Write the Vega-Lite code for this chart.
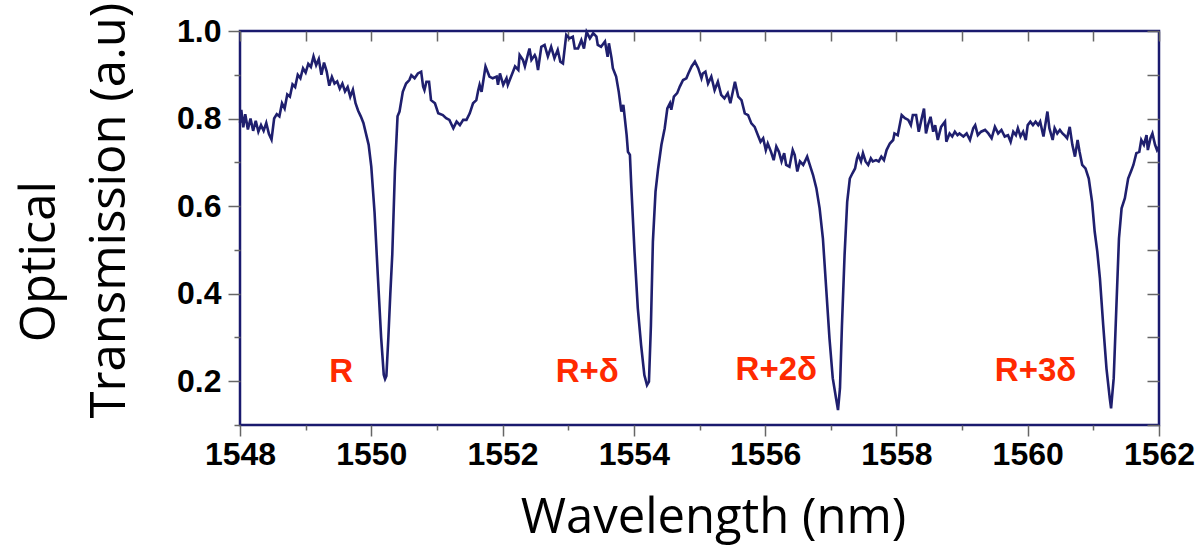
{
  "$schema": "https://vega.github.io/schema/vega-lite/v6.json",
  "width": 919,
  "height": 394,
  "autosize": {"type": "none"},
  "padding": {"left": 240, "top": 31, "right": 42, "bottom": 120},
  "background": "white",
  "config": {
    "view": {"stroke": "#1a1a6e", "strokeWidth": 2.5},
    "axis": {"grid": false, "domain": false, "tickColor": "#666666", "tickWidth": 1.5}
  },
  "datasets": {
    "spectrum": [
      {"w":1548.00,"t":0.79},{"w":1548.02,"t":0.82},{"w":1548.05,"t":0.78},{"w":1548.08,"t":0.81},{"w":1548.12,"t":0.775},
      {"w":1548.16,"t":0.80},{"w":1548.20,"t":0.772},{"w":1548.24,"t":0.795},{"w":1548.28,"t":0.770},{"w":1548.32,"t":0.785},
      {"w":1548.36,"t":0.772},{"w":1548.40,"t":0.790},{"w":1548.44,"t":0.765},{"w":1548.48,"t":0.752},{"w":1548.52,"t":0.800},
      {"w":1548.56,"t":0.810},{"w":1548.60,"t":0.805},{"w":1548.64,"t":0.835},{"w":1548.68,"t":0.823},{"w":1548.72,"t":0.855},
      {"w":1548.76,"t":0.850},{"w":1548.80,"t":0.878},{"w":1548.84,"t":0.872},{"w":1548.88,"t":0.900},{"w":1548.92,"t":0.892},
      {"w":1548.96,"t":0.915},{"w":1549.00,"t":0.905},{"w":1549.04,"t":0.925},{"w":1549.08,"t":0.918},{"w":1549.12,"t":0.942},
      {"w":1549.16,"t":0.922},{"w":1549.20,"t":0.936},{"w":1549.24,"t":0.900},{"w":1549.28,"t":0.928},{"w":1549.32,"t":0.908},
      {"w":1549.36,"t":0.875},{"w":1549.40,"t":0.895},{"w":1549.44,"t":0.880},{"w":1549.48,"t":0.885},{"w":1549.52,"t":0.868},
      {"w":1549.56,"t":0.880},{"w":1549.60,"t":0.862},{"w":1549.64,"t":0.872},{"w":1549.68,"t":0.850},{"w":1549.72,"t":0.866},
      {"w":1549.76,"t":0.835},{"w":1549.80,"t":0.818},{"w":1549.84,"t":0.805},{"w":1549.88,"t":0.790},{"w":1549.92,"t":0.765},
      {"w":1549.96,"t":0.740},{"w":1550.00,"t":0.690},{"w":1550.05,"t":0.585},{"w":1550.10,"t":0.440},{"w":1550.15,"t":0.300},
      {"w":1550.19,"t":0.215},{"w":1550.21,"t":0.205},{"w":1550.23,"t":0.212},{"w":1550.26,"t":0.30},{"w":1550.29,"t":0.40},
      {"w":1550.32,"t":0.49},{"w":1550.36,"t":0.68},{"w":1550.40,"t":0.805},{"w":1550.43,"t":0.816},{"w":1550.48,"t":0.861},
      {"w":1550.53,"t":0.880},{"w":1550.58,"t":0.888},{"w":1550.61,"t":0.899},{"w":1550.66,"t":0.892},{"w":1550.71,"t":0.903},
      {"w":1550.76,"t":0.907},{"w":1550.79,"t":0.873},{"w":1550.81,"t":0.865},{"w":1550.84,"t":0.884},{"w":1550.88,"t":0.884},
      {"w":1550.91,"t":0.842},{"w":1550.97,"t":0.835},{"w":1551.02,"t":0.812},{"w":1551.09,"t":0.808},{"w":1551.14,"t":0.801},
      {"w":1551.19,"t":0.797},{"w":1551.25,"t":0.778},{"w":1551.30,"t":0.793},{"w":1551.35,"t":0.785},{"w":1551.40,"t":0.797},
      {"w":1551.45,"t":0.797},{"w":1551.50,"t":0.812},{"w":1551.55,"t":0.835},{"w":1551.60,"t":0.842},{"w":1551.63,"t":0.865},
      {"w":1551.65,"t":0.877},{"w":1551.68,"t":0.861},{"w":1551.70,"t":0.880},{"w":1551.74,"t":0.919},{"w":1551.80,"t":0.896},
      {"w":1551.85,"t":0.892},{"w":1551.91,"t":0.896},{"w":1551.93,"t":0.877},{"w":1551.96,"t":0.903},{"w":1552.01,"t":0.877},
      {"w":1552.06,"t":0.892},{"w":1552.08,"t":0.877},{"w":1552.13,"t":0.896},{"w":1552.19,"t":0.919},{"w":1552.24,"t":0.911},
      {"w":1552.26,"t":0.945},{"w":1552.31,"t":0.934},{"w":1552.34,"t":0.919},{"w":1552.39,"t":0.949},{"w":1552.41,"t":0.960},
      {"w":1552.44,"t":0.934},{"w":1552.49,"t":0.945},{"w":1552.51,"t":0.938},{"w":1552.54,"t":0.911},{"w":1552.59,"t":0.964},
      {"w":1552.64,"t":0.968},{"w":1552.69,"t":0.942},{"w":1552.74,"t":0.964},{"w":1552.79,"t":0.938},{"w":1552.84,"t":0.957},
      {"w":1552.88,"t":0.930},{"w":1552.92,"t":0.926},{"w":1552.97,"t":0.991},{"w":1553.02,"t":0.983},{"w":1553.07,"t":0.987},
      {"w":1553.10,"t":0.960},{"w":1553.15,"t":0.960},{"w":1553.20,"t":0.979},{"w":1553.24,"t":0.960},{"w":1553.28,"t":0.998},
      {"w":1553.33,"t":0.983},{"w":1553.38,"t":0.995},{"w":1553.43,"t":0.987},{"w":1553.45,"t":0.968},{"w":1553.50,"t":0.964},
      {"w":1553.56,"t":0.976},{"w":1553.60,"t":0.941},{"w":1553.62,"t":0.972},{"w":1553.66,"t":0.938},{"w":1553.68,"t":0.915},
      {"w":1553.73,"t":0.896},{"w":1553.77,"t":0.861},{"w":1553.81,"t":0.816},{"w":1553.84,"t":0.831},{"w":1553.86,"t":0.804},
      {"w":1553.89,"t":0.762},{"w":1553.91,"t":0.724},{"w":1553.94,"t":0.717},{"w":1553.96,"t":0.648},{"w":1554.01,"t":0.496},
      {"w":1554.06,"t":0.367},{"w":1554.11,"t":0.283},{"w":1554.16,"t":0.214},{"w":1554.20,"t":0.191},{"w":1554.23,"t":0.199},
      {"w":1554.26,"t":0.328},{"w":1554.29,"t":0.519},{"w":1554.33,"t":0.633},{"w":1554.37,"t":0.686},{"w":1554.42,"t":0.740},
      {"w":1554.47,"t":0.778},{"w":1554.51,"t":0.823},{"w":1554.55,"t":0.835},{"w":1554.57,"t":0.820},{"w":1554.61,"t":0.850},
      {"w":1554.66,"t":0.858},{"w":1554.70,"t":0.873},{"w":1554.75,"t":0.888},{"w":1554.80,"t":0.892},{"w":1554.83,"t":0.903},
      {"w":1554.88,"t":0.919},{"w":1554.93,"t":0.930},{"w":1554.98,"t":0.915},{"w":1555.03,"t":0.892},{"w":1555.05,"t":0.903},
      {"w":1555.09,"t":0.907},{"w":1555.13,"t":0.880},{"w":1555.18,"t":0.896},{"w":1555.23,"t":0.865},{"w":1555.28,"t":0.884},
      {"w":1555.33,"t":0.854},{"w":1555.38,"t":0.846},{"w":1555.43,"t":0.858},{"w":1555.47,"t":0.835},{"w":1555.54,"t":0.884},
      {"w":1555.59,"t":0.850},{"w":1555.64,"t":0.842},{"w":1555.69,"t":0.812},{"w":1555.74,"t":0.808},{"w":1555.79,"t":0.789},
      {"w":1555.84,"t":0.781},{"w":1555.89,"t":0.762},{"w":1555.93,"t":0.747},{"w":1555.97,"t":0.755},{"w":1556.01,"t":0.728},
      {"w":1556.04,"t":0.743},{"w":1556.09,"t":0.724},{"w":1556.13,"t":0.705},{"w":1556.17,"t":0.736},{"w":1556.21,"t":0.724},
      {"w":1556.25,"t":0.702},{"w":1556.29,"t":0.721},{"w":1556.32,"t":0.694},{"w":1556.37,"t":0.690},{"w":1556.42,"t":0.728},
      {"w":1556.45,"t":0.717},{"w":1556.49,"t":0.679},{"w":1556.53,"t":0.702},{"w":1556.58,"t":0.694},{"w":1556.64,"t":0.713},
      {"w":1556.68,"t":0.694},{"w":1556.73,"t":0.671},{"w":1556.78,"t":0.641},{"w":1556.83,"t":0.595},{"w":1556.88,"t":0.526},
      {"w":1556.93,"t":0.412},{"w":1556.98,"t":0.298},{"w":1557.03,"t":0.207},{"w":1557.08,"t":0.161},{"w":1557.11,"t":0.134},
      {"w":1557.14,"t":0.184},{"w":1557.17,"t":0.328},{"w":1557.21,"t":0.488},{"w":1557.25,"t":0.610},{"w":1557.29,"t":0.663},
      {"w":1557.33,"t":0.675},{"w":1557.37,"t":0.686},{"w":1557.40,"t":0.709},{"w":1557.42,"t":0.717},{"w":1557.46,"t":0.702},
      {"w":1557.49,"t":0.721},{"w":1557.53,"t":0.702},{"w":1557.57,"t":0.694},{"w":1557.61,"t":0.709},{"w":1557.64,"t":0.702},
      {"w":1557.69,"t":0.705},{"w":1557.73,"t":0.702},{"w":1557.77,"t":0.713},{"w":1557.81,"t":0.705},{"w":1557.85,"t":0.728},
      {"w":1557.90,"t":0.743},{"w":1557.95,"t":0.751},{"w":1557.97,"t":0.766},{"w":1558.02,"t":0.762},{"w":1558.08,"t":0.808},
      {"w":1558.13,"t":0.801},{"w":1558.18,"t":0.797},{"w":1558.22,"t":0.785},{"w":1558.25,"t":0.808},{"w":1558.30,"t":0.808},
      {"w":1558.34,"t":0.770},{"w":1558.38,"t":0.797},{"w":1558.42,"t":0.823},{"w":1558.45,"t":0.766},{"w":1558.48,"t":0.785},
      {"w":1558.52,"t":0.804},{"w":1558.56,"t":0.770},{"w":1558.59,"t":0.785},{"w":1558.63,"t":0.751},{"w":1558.68,"t":0.781},
      {"w":1558.74,"t":0.793},{"w":1558.76,"t":0.747},{"w":1558.81,"t":0.766},{"w":1558.85,"t":0.759},{"w":1558.89,"t":0.770},
      {"w":1558.93,"t":0.762},{"w":1558.96,"t":0.766},{"w":1559.02,"t":0.759},{"w":1559.07,"t":0.766},{"w":1559.12,"t":0.751},
      {"w":1559.17,"t":0.778},{"w":1559.20,"t":0.785},{"w":1559.24,"t":0.762},{"w":1559.29,"t":0.770},{"w":1559.35,"t":0.774},
      {"w":1559.40,"t":0.766},{"w":1559.45,"t":0.755},{"w":1559.50,"t":0.781},{"w":1559.55,"t":0.766},{"w":1559.60,"t":0.774},
      {"w":1559.65,"t":0.759},{"w":1559.70,"t":0.762},{"w":1559.74,"t":0.747},{"w":1559.78,"t":0.770},{"w":1559.82,"t":0.762},
      {"w":1559.85,"t":0.778},{"w":1559.89,"t":0.759},{"w":1559.93,"t":0.770},{"w":1559.97,"t":0.751},{"w":1560.00,"t":0.785},
      {"w":1560.04,"t":0.793},{"w":1560.08,"t":0.785},{"w":1560.12,"t":0.793},{"w":1560.16,"t":0.785},{"w":1560.19,"t":0.793},
      {"w":1560.24,"t":0.759},{"w":1560.30,"t":0.816},{"w":1560.33,"t":0.778},{"w":1560.38,"t":0.751},{"w":1560.41,"t":0.778},
      {"w":1560.45,"t":0.766},{"w":1560.49,"t":0.774},{"w":1560.53,"t":0.766},{"w":1560.56,"t":0.762},{"w":1560.60,"t":0.755},
      {"w":1560.64,"t":0.781},{"w":1560.68,"t":0.740},{"w":1560.72,"t":0.713},{"w":1560.76,"t":0.751},{"w":1560.79,"t":0.724},
      {"w":1560.83,"t":0.694},{"w":1560.88,"t":0.686},{"w":1560.93,"t":0.663},{"w":1560.98,"t":0.610},{"w":1561.02,"t":0.542},
      {"w":1561.06,"t":0.496},{"w":1561.10,"t":0.435},{"w":1561.15,"t":0.328},{"w":1561.20,"t":0.229},{"w":1561.25,"t":0.161},
      {"w":1561.27,"t":0.138},{"w":1561.31,"t":0.207},{"w":1561.35,"t":0.367},{"w":1561.39,"t":0.526},{"w":1561.43,"t":0.595},
      {"w":1561.48,"t":0.618},{"w":1561.53,"t":0.663},{"w":1561.58,"t":0.682},{"w":1561.61,"t":0.694},{"w":1561.655,"t":0.721},
      {"w":1561.70,"t":0.724},{"w":1561.73,"t":0.751},{"w":1561.77,"t":0.740},{"w":1561.81,"t":0.762},{"w":1561.83,"t":0.728},
      {"w":1561.87,"t":0.755},{"w":1561.90,"t":0.766},{"w":1561.94,"t":0.740},{"w":1561.97,"t":0.728},{"w":1562.00,"t":0.736}
    ],
    "labels": [
      {"w": 1549.54, "t": 0.198, "label": "R"},
      {"w": 1553.29, "t": 0.198, "label": "R+δ"},
      {"w": 1556.17, "t": 0.202, "label": "R+2δ"},
      {"w": 1560.12, "t": 0.200, "label": "R+3δ"}
    ]
  },
  "resolve": {"axis": {"x": "independent", "y": "independent"}},
  "layer": [
    {
      "data": {"name": "spectrum"},
      "mark": {"type": "line", "color": "#1f1f6e", "strokeWidth": 2.6},
      "encoding": {
        "x": {
          "field": "w", "type": "quantitative",
          "scale": {"domain": [1548, 1562], "nice": false, "zero": false},
          "axis": {
            "orient": "bottom",
            "values": [1548,1549,1550,1551,1552,1553,1554,1555,1556,1557,1558,1559,1560,1561,1562],
            "labelExpr": "datum.value % 2 == 0 ? format(datum.value, 'd') : ''",
            "tickSize": {"condition": {"test": "datum.value % 2 == 0", "value": 11}, "value": 5},
            "labelFont": "Liberation Sans", "labelFontWeight": "bold", "labelFontSize": 32, "labelColor": "#000000",
            "labelPadding": 3, "labelFlush": false, "labelOverlap": false,
            "title": "Wavelength (nm)",
            "titleFont": "Open Sans", "titleFontWeight": "normal", "titleFontSize": 49, "titleColor": "#000000",
            "titleX": 473, "titleY": 107, "titleBaseline": "alphabetic", "titleAlign": "center"
          }
        },
        "y": {
          "field": "t", "type": "quantitative",
          "scale": {"domain": [0.1, 1.0], "nice": false, "zero": false},
          "axis": {
            "orient": "left",
            "values": [0.1,0.2,0.3,0.4,0.5,0.6,0.7,0.8,0.9,1.0],
            "labelExpr": "round(datum.value*10) % 2 == 0 ? format(datum.value, '.1f') : ''",
            "tickSize": {"condition": {"test": "round(datum.value*10) % 2 == 0", "value": 12}, "value": 6},
            "labelFont": "Liberation Sans", "labelFontWeight": "bold", "labelFontSize": 32, "labelColor": "#000000",
            "labelPadding": 7, "labelFlush": false, "labelOverlap": false,
            "title": ["\u200b\u00a0\u00a0\u00a0\u00a0\u00a0\u00a0Optical", "Transmission (a.u)"],
            "titleFont": "Open Sans", "titleFontWeight": "normal", "titleFontSize": 49, "titleColor": "#000000",
            "titleAngle": 270, "titleAlign": "left", "titleBaseline": "alphabetic", "titleLineHeight": 70,
            "titleX": -186, "titleY": 387
          }
        }
      }
    },
    {
      "data": {"name": "spectrum"},
      "mark": {"type": "line", "opacity": 0},
      "encoding": {
        "x": {
          "field": "w", "type": "quantitative",
          "scale": {"domain": [1548, 1562], "nice": false, "zero": false},
          "axis": {
            "orient": "top",
            "values": [1548,1549,1550,1551,1552,1553,1554,1555,1556,1557,1558,1559,1560,1561,1562],
            "tickSize": -10, "labels": false, "title": null
          }
        },
        "y": {
          "field": "t", "type": "quantitative",
          "scale": {"domain": [0.1, 1.0], "nice": false, "zero": false},
          "axis": {
            "orient": "right",
            "values": [0.1,0.2,0.3,0.4,0.5,0.6,0.7,0.8,0.9,1.0],
            "tickSize": -12, "labels": false, "title": null
          }
        }
      }
    },
    {
      "data": {"name": "labels"},
      "mark": {"type": "text", "font": "Liberation Sans", "fontWeight": "bold", "fontSize": 33, "color": "#ff2a00", "align": "center", "baseline": "alphabetic"},
      "encoding": {
        "x": {"field": "w", "type": "quantitative", "axis": null},
        "y": {"field": "t", "type": "quantitative", "axis": null},
        "text": {"field": "label", "type": "nominal"}
      }
    }
  ]
}
